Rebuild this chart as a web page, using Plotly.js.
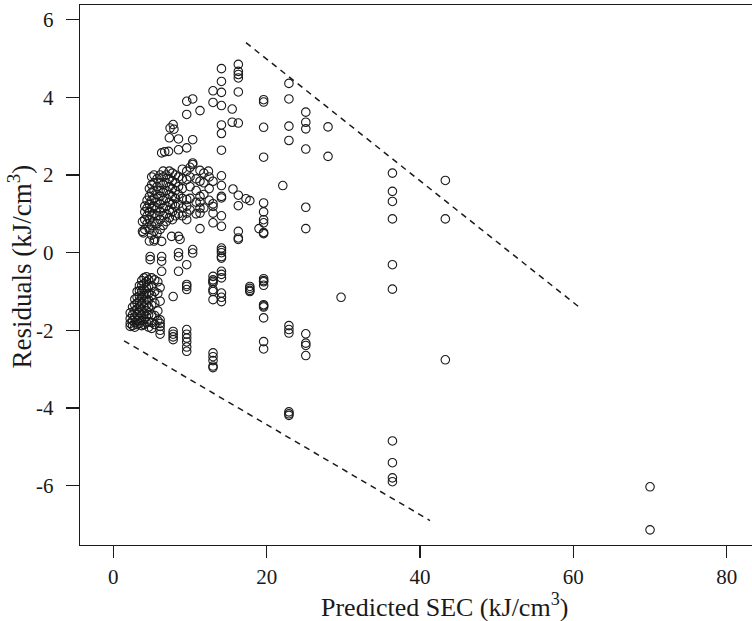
<!DOCTYPE html>
<html>
<head>
<meta charset="utf-8">
<script src="https://cdn.plot.ly/plotly-3.0.1.min.js"></script>
<style>html,body{margin:0;padding:0;background:#fff;}#chart{width:752px;height:621px;}</style>
</head>
<body>
<div id="chart"></div>
<script>
// Sparse points (read column by column)
const sparseX = [70.0,70.0,
 43.3,43.3,43.3,
 36.4,36.4,36.4,36.4,36.4,36.4,36.4,36.4,36.4,36.4,
 29.7, 28.0,28.0,
 25.1,25.1,25.1,25.1,25.1,25.1,25.1,25.1,25.1,25.1,
 22.9,22.9,22.9,22.9,22.9,22.9,22.9,22.9,22.9,22.9, 22.1,
 19.6,19.6,19.6,19.6,19.6,19.6,19.6,19.6,19.6,19.6,19.6,19.6,19.6,19.6,19.6,19.6,19.6,19.6,19.6,19.6,
 19.0, 17.8,17.3,16.3,15.6, 17.8,17.8,17.8,17.8,
 16.3,16.3,16.3,16.3,16.3,16.3,16.3,16.3,16.3,16.3, 15.5,15.5,
 14.1,14.1,14.1,14.1,14.1,14.1,14.1,14.1,14.1,14.1,14.1,14.1,14.1,14.1,14.1,14.1,14.1,14.1,14.1,14.1,14.1,14.1,14.1,14.1,
 13.0,13.0,13.0,13.0,13.0,13.0,13.0,13.0,13.0,13.0,13.0,13.0,13.0,13.0,13.0,13.0,13.0,13.0,13.0,
 12.4,11.3,11.3,11.3,11.3,11.3,11.3,11.3,11.3,
 10.35,10.35,10.35,10.35,10.35,10.35,
 9.57,9.57,9.57,9.57,9.57,9.57,9.57,9.57,9.57,9.57,9.57,9.57,9.57,9.57,9.57,9.57,9.57,9.57,9.57,
 8.7, 8.5,8.5,8.5,8.5,8.5,8.5,
 7.8,7.4,7.9,7.3,7.2,6.7,6.3,
 7.8,7.8,7.8,7.8,7.8,
 6.1,6.1,6.1,6.1,6.1,
 6.3,6.3,6.3,4.8,4.8,
 3.9,5.4,6.3,7.6];
const sparseY = [-6.03,-7.14,
 1.86,0.87,-2.76,
 2.05,1.58,1.32,0.87,-0.31,-0.94,-4.85,-5.41,-5.80,-5.90,
 -1.15, 3.24,2.48,
 3.62,3.36,3.19,2.67,1.17,0.62,-2.09,-2.33,-2.39,-2.65,
 4.36,3.96,3.26,2.89,-1.88,-1.98,-2.07,-4.10,-4.15,-4.19, 1.73,
 3.94,3.88,3.23,2.46,1.28,1.05,0.85,0.77,0.52,0.49,-0.67,-0.72,-0.75,-0.84,-1.34,-1.37,-1.40,-1.68,-2.29,-2.48,
 0.62, 1.34,1.39,1.48,1.64, -0.87,-0.92,-0.97,-1.00,
 4.85,4.67,4.59,4.50,4.14,3.34,1.21,0.55,0.38,0.34, 3.70,3.36,
 4.74,4.41,4.13,3.79,3.29,3.07,2.64,1.98,1.73,1.45,1.41,0.95,0.68,0.12,0.06,0.00,-0.10,-0.14,-0.48,-0.56,-0.65,-1.04,-1.15,-1.26,
 4.17,3.87,1.84,1.26,1.19,1.02,0.77,-0.61,-0.70,-0.74,-0.78,-0.95,-1.00,-1.21,-2.58,-2.68,-2.78,-2.92,-2.96,
 2.10,3.66,2.12,1.84,1.45,1.30,1.15,1.02,0.62,
 3.96,2.91,2.31,2.27,0.08,-0.01,
 3.90,3.56,2.70,2.10,1.88,1.37,1.20,1.02,0.85,-0.31,-0.82,-0.87,-0.95,-1.98,-2.10,-2.20,-2.30,-2.43,-2.54,
 0.34, 2.93,2.65,0.00,-0.10,-0.48,0.42,
 3.30,3.21,3.18,2.96,2.61,2.60,2.57,
 -1.13,-2.03,-2.10,-2.17,-2.24,
 -1.73,-1.82,-1.90,-2.00,-2.10,
 -0.48,-0.10,-0.22,-0.10,-0.18,
 0.51,0.34,0.29,0.42];

// Dense lower-left cluster
const lowerX = [2.2,2.2,2.2,2.2, 2.5,2.5,2.5,2.5, 2.8,2.8,2.8,2.8,2.8,2.8,
 3.1,3.1,3.1,3.1,3.1,3.1,3.1, 3.4,3.4,3.4,3.4,3.4,3.4,3.4,3.4,
 3.7,3.7,3.7,3.7,3.7,3.7,3.7,3.7,3.7, 4.0,4.0,4.0,4.0,4.0,4.0,4.0,4.0,4.0,
 4.3,4.3,4.3,4.3,4.3,4.3,4.3,4.3,4.3, 4.6,4.6,4.6,4.6,4.6,4.6,4.6,4.6,
 5.0,5.0,5.0,5.0,5.0,5.0,5.0, 5.4,5.4,5.4,5.4,5.4, 5.8,5.8,5.8,5.8, 6.1,6.1];
const lowerY = [-1.55,-1.70,-1.82,-1.90, -1.40,-1.60,-1.75,-1.88, -1.20,-1.35,-1.50,-1.65,-1.80,-1.92,
 -1.00,-1.15,-1.30,-1.45,-1.60,-1.75,-1.85, -0.85,-0.98,-1.12,-1.25,-1.40,-1.55,-1.70,-1.82,
 -0.72,-0.85,-1.00,-1.15,-1.30,-1.45,-1.60,-1.75,-1.88, -0.65,-0.80,-0.95,-1.10,-1.25,-1.40,-1.58,-1.72,-1.85,
 -0.62,-0.75,-0.90,-1.05,-1.20,-1.35,-1.50,-1.65,-1.80, -0.70,-0.88,-1.05,-1.22,-1.40,-1.60,-1.78,-1.92,
 -0.65,-0.85,-1.10,-1.35,-1.60,-1.80,-1.95, -0.70,-1.00,-1.30,-1.62,-1.85, -0.75,-1.05,-1.50,-1.75, -0.90,-1.25];

// Dense upper-left cluster
const upperX = [3.8,3.8, 4.1,4.1,4.1,4.1, 4.4,4.4,4.4,4.4,
 4.7,4.7,4.7,4.7,4.7,4.7,4.7, 5.0,5.0,5.0,5.0,5.0,5.0,5.0,5.0,
 5.3,5.3,5.3,5.3,5.3,5.3,5.3,5.3,5.3, 5.7,5.7,5.7,5.7,5.7,5.7,5.7,5.7,
 6.1,6.1,6.1,6.1,6.1,6.1,6.1,6.1, 6.5,6.5,6.5,6.5,6.5,6.5,6.5,6.5,
 6.9,6.9,6.9,6.9,6.9,6.9,6.9, 7.3,7.3,7.3,7.3,7.3,7.3,7.3,
 7.7,7.7,7.7,7.7,7.7,7.7,7.7, 8.1,8.1,8.1,8.1,8.1,8.1,
 8.5,8.5,8.5,8.5,8.5, 9.0,9.0,9.0,9.0,9.0,9.0,
 10.0,10.0,10.0,10.0,10.0, 10.8,10.8,10.8,10.8, 11.8,11.8,11.8,11.8, 12.5,12.5,12.5];
const upperY = [0.55,0.80, 0.60,0.85,1.05,1.20, 0.75,0.95,1.15,1.35,
 0.30,0.60,0.85,1.05,1.25,1.45,1.65, 0.45,0.70,0.95,1.15,1.35,1.55,1.75,1.95,
 0.30,0.55,0.80,1.00,1.20,1.40,1.60,1.80,2.00, 0.50,0.75,0.95,1.15,1.30,1.50,1.70,1.90,
 0.60,0.85,1.05,1.25,1.45,1.60,1.80,2.00, 0.70,0.95,1.15,1.35,1.55,1.75,1.95,2.10,
 0.80,1.00,1.20,1.40,1.60,1.80,2.00, 0.90,1.10,1.30,1.50,1.70,1.90,2.10,
 0.85,1.05,1.25,1.45,1.65,1.85,2.05, 0.95,1.20,1.40,1.60,1.80,2.00,
 1.00,1.25,1.50,1.70,1.95, 0.95,1.15,1.40,1.65,1.90,2.15,
 1.10,1.40,1.70,1.95,2.20, 1.00,1.30,1.60,1.90, 1.15,1.50,1.80,2.05, 1.35,1.65,1.95];

// Bounding dashed lines
const upperLineX = [17.3, 61.0];
const upperLineY = [5.41, -1.44];
const lowerLineX = [1.4, 41.3];
const lowerLineY = [-2.27, -6.90];

const xTicks = [0, 20, 40, 60, 80];
const yTicks = [-6, -4, -2, 0, 2, 4, 6];
const xTitle = 'Predicted SEC (kJ/cm<sup>3</sup>)';
const yTitle = 'Residuals (kJ/cm<sup>3</sup>)';

const allX = sparseX.concat(lowerX, upperX);
const allY = sparseY.concat(lowerY, upperY);

const ink = '#1a1a1a';
const fam = 'Liberation Serif';
const traces = [
  {x: allX, y: allY, type: 'scatter', mode: 'markers',
   marker: {symbol: 'circle-open', size: 8.5, color: ink, line: {width: 1.1, color: ink}},
   hoverinfo: 'skip'},
  {x: upperLineX, y: upperLineY, type: 'scatter', mode: 'lines',
   line: {color: ink, width: 1.5, dash: '6px,5px'}},
  {x: lowerLineX, y: lowerLineY, type: 'scatter', mode: 'lines',
   line: {color: ink, width: 1.5, dash: '6px,5px'}}
];

const tickFont = {family: fam, size: 21, color: ink};
const titleFont = {family: fam, size: 26, color: ink};
const layout = {
  width: 752, height: 621,
  margin: {l: 80, r: 0, t: 5, b: 76},
  paper_bgcolor: '#fff', plot_bgcolor: '#fff',
  showlegend: false,
  font: tickFont,
  xaxis: {
    range: [-4.35, 83.3], tickvals: xTicks, ticktext: xTicks.map(String),
    showgrid: false, zeroline: false, showline: true, mirror: true,
    linecolor: ink, linewidth: 1.3, ticks: 'outside', ticklen: 12, tickwidth: 1.3, tickcolor: ink,
    tickfont: tickFont
  },
  yaxis: {
    range: [-7.53, 6.38], tickvals: yTicks, ticktext: yTicks.map(String),
    showgrid: false, zeroline: false, showline: true,
    linecolor: ink, linewidth: 1.3, ticks: 'outside', ticklen: 13, tickwidth: 1.3, tickcolor: ink,
    tickfont: tickFont, ticklabelstandoff: 8
  },
  annotations: [
    {text: xTitle, xref: 'paper', yref: 'paper', x: 0.542, y: -0.112,
     xanchor: 'center', yanchor: 'middle', showarrow: false, font: titleFont},
    {text: yTitle, xref: 'paper', yref: 'paper', x: -0.09, y: 0.515, textangle: -90,
     xanchor: 'center', yanchor: 'middle', showarrow: false, font: {family: fam, size: 27, color: ink}}
  ]
};

Plotly.newPlot('chart', traces, layout, {staticPlot: true, displayModeBar: false});
</script>
</body>
</html>
